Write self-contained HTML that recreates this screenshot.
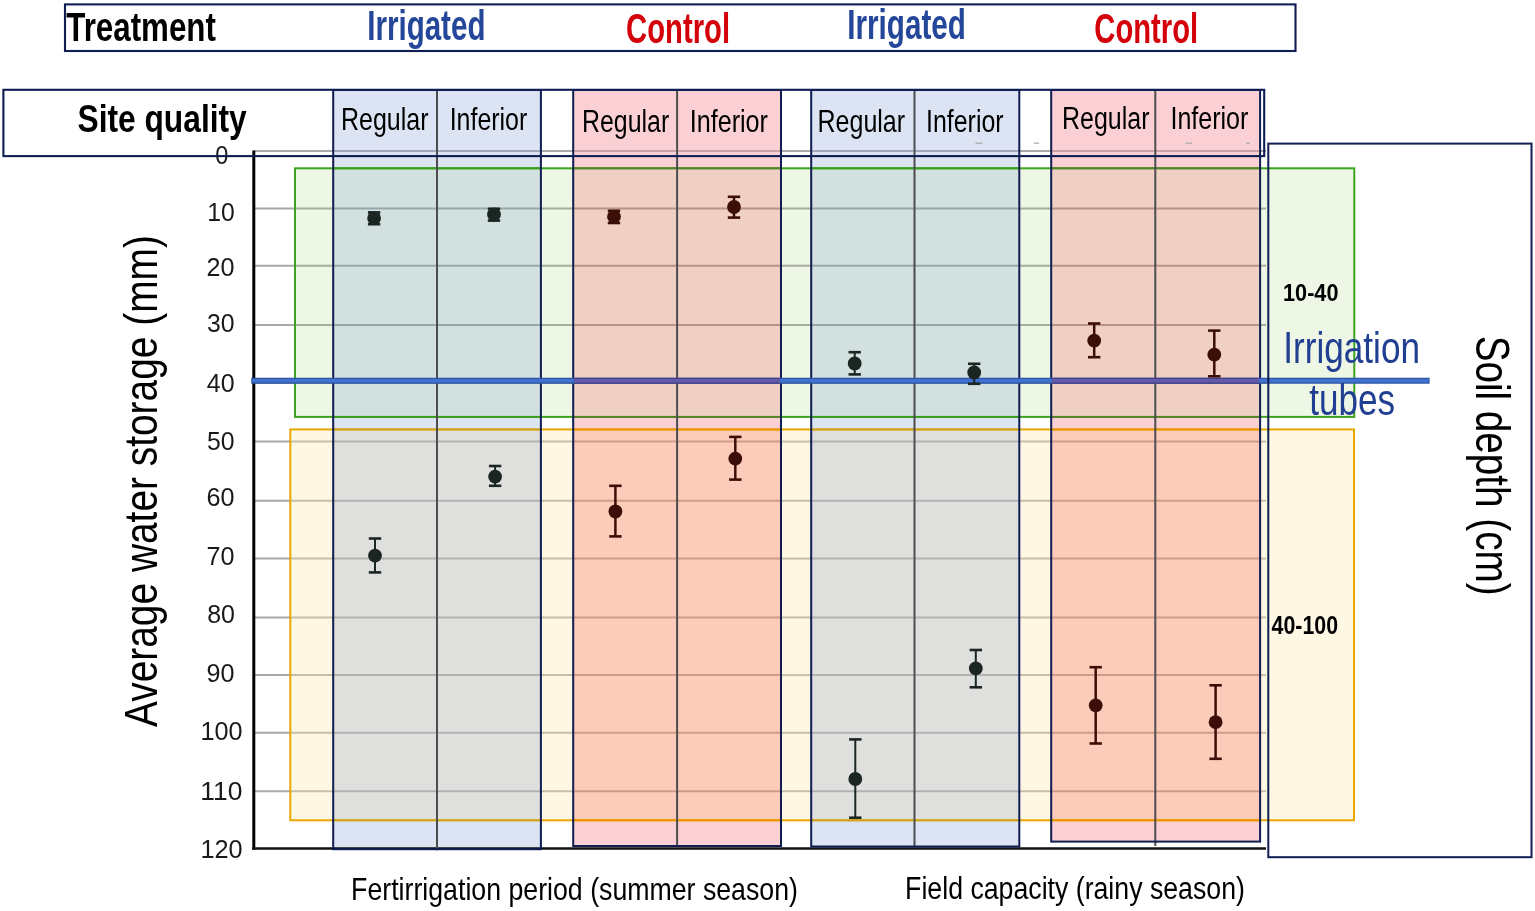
<!DOCTYPE html>
<html><head><meta charset="utf-8"><title>Average water storage by soil depth</title>
<style>html,body{margin:0;padding:0;background:#fff;}svg{display:block;}text{font-family:'Liberation Sans', Arial, sans-serif;}</style>
</head><body>
<svg width="1535" height="911" viewBox="0 0 1535 911">
<rect x="0" y="0" width="1535" height="911" fill="#ffffff"/>
<rect x="295.0" y="168.3" width="1059.3" height="248.59999999999997" fill="#eef6e6"/>
<rect x="290.3" y="429.4" width="1063.7" height="390.9" fill="#fef7e4"/>
<rect x="333.2" y="90.0" width="207.7" height="759.2" fill="#dce4f4"/>
<rect x="333.2" y="168.3" width="207.7" height="248.6" fill="#d2e0e0"/>
<rect x="333.2" y="429.4" width="207.7" height="390.9" fill="#dfe0de"/>
<rect x="573.2" y="90.0" width="207.8" height="756.0" fill="#fbd0d4"/>
<rect x="573.2" y="168.3" width="207.8" height="248.6" fill="#f0d0c5"/>
<rect x="573.2" y="429.4" width="207.8" height="390.9" fill="#fdcbb9"/>
<rect x="811.2" y="90.0" width="208.1" height="756.5" fill="#dce4f4"/>
<rect x="811.2" y="168.3" width="208.1" height="248.6" fill="#d2e0e0"/>
<rect x="811.2" y="429.4" width="208.1" height="390.9" fill="#dfe0de"/>
<rect x="1051.2" y="90.0" width="208.9" height="751.6" fill="#fbd0d4"/>
<rect x="1051.2" y="168.3" width="208.9" height="248.6" fill="#f0d0c5"/>
<rect x="1051.2" y="429.4" width="208.9" height="390.9" fill="#fdcbb9"/>
<line x1="254.0" y1="151.0" x2="333.2" y2="151.0" stroke="#a8a8a8" stroke-width="2"/>
<line x1="333.2" y1="151.0" x2="540.9" y2="151.0" stroke="#a2a6b8" stroke-width="2"/>
<line x1="540.9" y1="151.0" x2="573.2" y2="151.0" stroke="#a8a8a8" stroke-width="2"/>
<line x1="573.2" y1="151.0" x2="781.0" y2="151.0" stroke="#c8a2a6" stroke-width="2"/>
<line x1="781.0" y1="151.0" x2="811.2" y2="151.0" stroke="#a8a8a8" stroke-width="2"/>
<line x1="811.2" y1="151.0" x2="1019.3" y2="151.0" stroke="#a2a6b8" stroke-width="2"/>
<line x1="1019.3" y1="151.0" x2="1051.2" y2="151.0" stroke="#a8a8a8" stroke-width="2"/>
<line x1="1051.2" y1="151.0" x2="1260.1" y2="151.0" stroke="#c8a2a6" stroke-width="2"/>
<line x1="1260.1" y1="151.0" x2="1266.0" y2="151.0" stroke="#a8a8a8" stroke-width="2"/>
<line x1="254.0" y1="208.5" x2="295.0" y2="208.5" stroke="#a8a8a8" stroke-width="2"/>
<line x1="295.0" y1="208.5" x2="333.2" y2="208.5" stroke="#a6ae9e" stroke-width="2"/>
<line x1="333.2" y1="208.5" x2="540.9" y2="208.5" stroke="#98a8a8" stroke-width="2"/>
<line x1="540.9" y1="208.5" x2="573.2" y2="208.5" stroke="#a6ae9e" stroke-width="2"/>
<line x1="573.2" y1="208.5" x2="781.0" y2="208.5" stroke="#b89484" stroke-width="2"/>
<line x1="781.0" y1="208.5" x2="811.2" y2="208.5" stroke="#a6ae9e" stroke-width="2"/>
<line x1="811.2" y1="208.5" x2="1019.3" y2="208.5" stroke="#98a8a8" stroke-width="2"/>
<line x1="1019.3" y1="208.5" x2="1051.2" y2="208.5" stroke="#a6ae9e" stroke-width="2"/>
<line x1="1051.2" y1="208.5" x2="1260.1" y2="208.5" stroke="#b89484" stroke-width="2"/>
<line x1="1260.1" y1="208.5" x2="1266.0" y2="208.5" stroke="#a6ae9e" stroke-width="2"/>
<line x1="254.0" y1="265.7" x2="295.0" y2="265.7" stroke="#a8a8a8" stroke-width="2"/>
<line x1="295.0" y1="265.7" x2="333.2" y2="265.7" stroke="#a6ae9e" stroke-width="2"/>
<line x1="333.2" y1="265.7" x2="540.9" y2="265.7" stroke="#98a8a8" stroke-width="2"/>
<line x1="540.9" y1="265.7" x2="573.2" y2="265.7" stroke="#a6ae9e" stroke-width="2"/>
<line x1="573.2" y1="265.7" x2="781.0" y2="265.7" stroke="#b89484" stroke-width="2"/>
<line x1="781.0" y1="265.7" x2="811.2" y2="265.7" stroke="#a6ae9e" stroke-width="2"/>
<line x1="811.2" y1="265.7" x2="1019.3" y2="265.7" stroke="#98a8a8" stroke-width="2"/>
<line x1="1019.3" y1="265.7" x2="1051.2" y2="265.7" stroke="#a6ae9e" stroke-width="2"/>
<line x1="1051.2" y1="265.7" x2="1260.1" y2="265.7" stroke="#b89484" stroke-width="2"/>
<line x1="1260.1" y1="265.7" x2="1266.0" y2="265.7" stroke="#a6ae9e" stroke-width="2"/>
<line x1="254.0" y1="325.0" x2="295.0" y2="325.0" stroke="#a8a8a8" stroke-width="2"/>
<line x1="295.0" y1="325.0" x2="333.2" y2="325.0" stroke="#a6ae9e" stroke-width="2"/>
<line x1="333.2" y1="325.0" x2="540.9" y2="325.0" stroke="#98a8a8" stroke-width="2"/>
<line x1="540.9" y1="325.0" x2="573.2" y2="325.0" stroke="#a6ae9e" stroke-width="2"/>
<line x1="573.2" y1="325.0" x2="781.0" y2="325.0" stroke="#b89484" stroke-width="2"/>
<line x1="781.0" y1="325.0" x2="811.2" y2="325.0" stroke="#a6ae9e" stroke-width="2"/>
<line x1="811.2" y1="325.0" x2="1019.3" y2="325.0" stroke="#98a8a8" stroke-width="2"/>
<line x1="1019.3" y1="325.0" x2="1051.2" y2="325.0" stroke="#a6ae9e" stroke-width="2"/>
<line x1="1051.2" y1="325.0" x2="1260.1" y2="325.0" stroke="#b89484" stroke-width="2"/>
<line x1="1260.1" y1="325.0" x2="1266.0" y2="325.0" stroke="#a6ae9e" stroke-width="2"/>
<line x1="254.0" y1="383.0" x2="295.0" y2="383.0" stroke="#a8a8a8" stroke-width="2"/>
<line x1="295.0" y1="383.0" x2="333.2" y2="383.0" stroke="#a6ae9e" stroke-width="2"/>
<line x1="333.2" y1="383.0" x2="540.9" y2="383.0" stroke="#98a8a8" stroke-width="2"/>
<line x1="540.9" y1="383.0" x2="573.2" y2="383.0" stroke="#a6ae9e" stroke-width="2"/>
<line x1="573.2" y1="383.0" x2="781.0" y2="383.0" stroke="#b89484" stroke-width="2"/>
<line x1="781.0" y1="383.0" x2="811.2" y2="383.0" stroke="#a6ae9e" stroke-width="2"/>
<line x1="811.2" y1="383.0" x2="1019.3" y2="383.0" stroke="#98a8a8" stroke-width="2"/>
<line x1="1019.3" y1="383.0" x2="1051.2" y2="383.0" stroke="#a6ae9e" stroke-width="2"/>
<line x1="1051.2" y1="383.0" x2="1260.1" y2="383.0" stroke="#b89484" stroke-width="2"/>
<line x1="1260.1" y1="383.0" x2="1266.0" y2="383.0" stroke="#a6ae9e" stroke-width="2"/>
<line x1="254.0" y1="441.6" x2="290.3" y2="441.6" stroke="#a8a8a8" stroke-width="2"/>
<line x1="290.3" y1="441.6" x2="333.2" y2="441.6" stroke="#c6c0a6" stroke-width="2"/>
<line x1="333.2" y1="441.6" x2="540.9" y2="441.6" stroke="#b0b2b0" stroke-width="2"/>
<line x1="540.9" y1="441.6" x2="573.2" y2="441.6" stroke="#c6c0a6" stroke-width="2"/>
<line x1="573.2" y1="441.6" x2="781.0" y2="441.6" stroke="#d09c88" stroke-width="2"/>
<line x1="781.0" y1="441.6" x2="811.2" y2="441.6" stroke="#c6c0a6" stroke-width="2"/>
<line x1="811.2" y1="441.6" x2="1019.3" y2="441.6" stroke="#b0b2b0" stroke-width="2"/>
<line x1="1019.3" y1="441.6" x2="1051.2" y2="441.6" stroke="#c6c0a6" stroke-width="2"/>
<line x1="1051.2" y1="441.6" x2="1260.1" y2="441.6" stroke="#d09c88" stroke-width="2"/>
<line x1="1260.1" y1="441.6" x2="1266.0" y2="441.6" stroke="#c6c0a6" stroke-width="2"/>
<line x1="254.0" y1="500.7" x2="290.3" y2="500.7" stroke="#a8a8a8" stroke-width="2"/>
<line x1="290.3" y1="500.7" x2="333.2" y2="500.7" stroke="#c6c0a6" stroke-width="2"/>
<line x1="333.2" y1="500.7" x2="540.9" y2="500.7" stroke="#b0b2b0" stroke-width="2"/>
<line x1="540.9" y1="500.7" x2="573.2" y2="500.7" stroke="#c6c0a6" stroke-width="2"/>
<line x1="573.2" y1="500.7" x2="781.0" y2="500.7" stroke="#d09c88" stroke-width="2"/>
<line x1="781.0" y1="500.7" x2="811.2" y2="500.7" stroke="#c6c0a6" stroke-width="2"/>
<line x1="811.2" y1="500.7" x2="1019.3" y2="500.7" stroke="#b0b2b0" stroke-width="2"/>
<line x1="1019.3" y1="500.7" x2="1051.2" y2="500.7" stroke="#c6c0a6" stroke-width="2"/>
<line x1="1051.2" y1="500.7" x2="1260.1" y2="500.7" stroke="#d09c88" stroke-width="2"/>
<line x1="1260.1" y1="500.7" x2="1266.0" y2="500.7" stroke="#c6c0a6" stroke-width="2"/>
<line x1="254.0" y1="558.6" x2="290.3" y2="558.6" stroke="#a8a8a8" stroke-width="2"/>
<line x1="290.3" y1="558.6" x2="333.2" y2="558.6" stroke="#c6c0a6" stroke-width="2"/>
<line x1="333.2" y1="558.6" x2="540.9" y2="558.6" stroke="#b0b2b0" stroke-width="2"/>
<line x1="540.9" y1="558.6" x2="573.2" y2="558.6" stroke="#c6c0a6" stroke-width="2"/>
<line x1="573.2" y1="558.6" x2="781.0" y2="558.6" stroke="#d09c88" stroke-width="2"/>
<line x1="781.0" y1="558.6" x2="811.2" y2="558.6" stroke="#c6c0a6" stroke-width="2"/>
<line x1="811.2" y1="558.6" x2="1019.3" y2="558.6" stroke="#b0b2b0" stroke-width="2"/>
<line x1="1019.3" y1="558.6" x2="1051.2" y2="558.6" stroke="#c6c0a6" stroke-width="2"/>
<line x1="1051.2" y1="558.6" x2="1260.1" y2="558.6" stroke="#d09c88" stroke-width="2"/>
<line x1="1260.1" y1="558.6" x2="1266.0" y2="558.6" stroke="#c6c0a6" stroke-width="2"/>
<line x1="254.0" y1="617.4" x2="290.3" y2="617.4" stroke="#a8a8a8" stroke-width="2"/>
<line x1="290.3" y1="617.4" x2="333.2" y2="617.4" stroke="#c6c0a6" stroke-width="2"/>
<line x1="333.2" y1="617.4" x2="540.9" y2="617.4" stroke="#b0b2b0" stroke-width="2"/>
<line x1="540.9" y1="617.4" x2="573.2" y2="617.4" stroke="#c6c0a6" stroke-width="2"/>
<line x1="573.2" y1="617.4" x2="781.0" y2="617.4" stroke="#d09c88" stroke-width="2"/>
<line x1="781.0" y1="617.4" x2="811.2" y2="617.4" stroke="#c6c0a6" stroke-width="2"/>
<line x1="811.2" y1="617.4" x2="1019.3" y2="617.4" stroke="#b0b2b0" stroke-width="2"/>
<line x1="1019.3" y1="617.4" x2="1051.2" y2="617.4" stroke="#c6c0a6" stroke-width="2"/>
<line x1="1051.2" y1="617.4" x2="1260.1" y2="617.4" stroke="#d09c88" stroke-width="2"/>
<line x1="1260.1" y1="617.4" x2="1266.0" y2="617.4" stroke="#c6c0a6" stroke-width="2"/>
<line x1="254.0" y1="675.1" x2="290.3" y2="675.1" stroke="#a8a8a8" stroke-width="2"/>
<line x1="290.3" y1="675.1" x2="333.2" y2="675.1" stroke="#c6c0a6" stroke-width="2"/>
<line x1="333.2" y1="675.1" x2="540.9" y2="675.1" stroke="#b0b2b0" stroke-width="2"/>
<line x1="540.9" y1="675.1" x2="573.2" y2="675.1" stroke="#c6c0a6" stroke-width="2"/>
<line x1="573.2" y1="675.1" x2="781.0" y2="675.1" stroke="#d09c88" stroke-width="2"/>
<line x1="781.0" y1="675.1" x2="811.2" y2="675.1" stroke="#c6c0a6" stroke-width="2"/>
<line x1="811.2" y1="675.1" x2="1019.3" y2="675.1" stroke="#b0b2b0" stroke-width="2"/>
<line x1="1019.3" y1="675.1" x2="1051.2" y2="675.1" stroke="#c6c0a6" stroke-width="2"/>
<line x1="1051.2" y1="675.1" x2="1260.1" y2="675.1" stroke="#d09c88" stroke-width="2"/>
<line x1="1260.1" y1="675.1" x2="1266.0" y2="675.1" stroke="#c6c0a6" stroke-width="2"/>
<line x1="254.0" y1="732.8" x2="290.3" y2="732.8" stroke="#a8a8a8" stroke-width="2"/>
<line x1="290.3" y1="732.8" x2="333.2" y2="732.8" stroke="#c6c0a6" stroke-width="2"/>
<line x1="333.2" y1="732.8" x2="540.9" y2="732.8" stroke="#b0b2b0" stroke-width="2"/>
<line x1="540.9" y1="732.8" x2="573.2" y2="732.8" stroke="#c6c0a6" stroke-width="2"/>
<line x1="573.2" y1="732.8" x2="781.0" y2="732.8" stroke="#d09c88" stroke-width="2"/>
<line x1="781.0" y1="732.8" x2="811.2" y2="732.8" stroke="#c6c0a6" stroke-width="2"/>
<line x1="811.2" y1="732.8" x2="1019.3" y2="732.8" stroke="#b0b2b0" stroke-width="2"/>
<line x1="1019.3" y1="732.8" x2="1051.2" y2="732.8" stroke="#c6c0a6" stroke-width="2"/>
<line x1="1051.2" y1="732.8" x2="1260.1" y2="732.8" stroke="#d09c88" stroke-width="2"/>
<line x1="1260.1" y1="732.8" x2="1266.0" y2="732.8" stroke="#c6c0a6" stroke-width="2"/>
<line x1="254.0" y1="791.2" x2="290.3" y2="791.2" stroke="#a8a8a8" stroke-width="2"/>
<line x1="290.3" y1="791.2" x2="333.2" y2="791.2" stroke="#c6c0a6" stroke-width="2"/>
<line x1="333.2" y1="791.2" x2="540.9" y2="791.2" stroke="#b0b2b0" stroke-width="2"/>
<line x1="540.9" y1="791.2" x2="573.2" y2="791.2" stroke="#c6c0a6" stroke-width="2"/>
<line x1="573.2" y1="791.2" x2="781.0" y2="791.2" stroke="#d09c88" stroke-width="2"/>
<line x1="781.0" y1="791.2" x2="811.2" y2="791.2" stroke="#c6c0a6" stroke-width="2"/>
<line x1="811.2" y1="791.2" x2="1019.3" y2="791.2" stroke="#b0b2b0" stroke-width="2"/>
<line x1="1019.3" y1="791.2" x2="1051.2" y2="791.2" stroke="#c6c0a6" stroke-width="2"/>
<line x1="1051.2" y1="791.2" x2="1260.1" y2="791.2" stroke="#d09c88" stroke-width="2"/>
<line x1="1260.1" y1="791.2" x2="1266.0" y2="791.2" stroke="#c6c0a6" stroke-width="2"/>
<rect x="295.0" y="168.3" width="1059.3" height="248.6" fill="none" stroke="#3da41f" stroke-width="2"/>
<rect x="290.3" y="429.4" width="1063.7" height="390.9" fill="none" stroke="#eaa700" stroke-width="2"/>
<line x1="253.8" y1="150.5" x2="253.8" y2="849.8" stroke="#000" stroke-width="3"/>
<line x1="252.3" y1="848.5" x2="1266" y2="848.5" stroke="#111" stroke-width="2.5"/>
<line x1="333.2" y1="168.3" x2="540.9" y2="168.3" stroke="#3a9f1e" stroke-width="2"/>
<line x1="333.2" y1="416.9" x2="540.9" y2="416.9" stroke="#3a9f1e" stroke-width="2"/>
<line x1="333.2" y1="429.4" x2="540.9" y2="429.4" stroke="#cfa423" stroke-width="2"/>
<line x1="333.2" y1="820.3" x2="540.9" y2="820.3" stroke="#cfa423" stroke-width="2"/>
<line x1="573.2" y1="168.3" x2="781.0" y2="168.3" stroke="#55842a" stroke-width="2"/>
<line x1="573.2" y1="416.9" x2="781.0" y2="416.9" stroke="#55842a" stroke-width="2"/>
<line x1="573.2" y1="429.4" x2="781.0" y2="429.4" stroke="#ef9400" stroke-width="2"/>
<line x1="573.2" y1="820.3" x2="781.0" y2="820.3" stroke="#ef9400" stroke-width="2"/>
<line x1="811.2" y1="168.3" x2="1019.3" y2="168.3" stroke="#3a9f1e" stroke-width="2"/>
<line x1="811.2" y1="416.9" x2="1019.3" y2="416.9" stroke="#3a9f1e" stroke-width="2"/>
<line x1="811.2" y1="429.4" x2="1019.3" y2="429.4" stroke="#cfa423" stroke-width="2"/>
<line x1="811.2" y1="820.3" x2="1019.3" y2="820.3" stroke="#cfa423" stroke-width="2"/>
<line x1="1051.2" y1="168.3" x2="1260.1" y2="168.3" stroke="#55842a" stroke-width="2"/>
<line x1="1051.2" y1="416.9" x2="1260.1" y2="416.9" stroke="#55842a" stroke-width="2"/>
<line x1="1051.2" y1="429.4" x2="1260.1" y2="429.4" stroke="#ef9400" stroke-width="2"/>
<line x1="1051.2" y1="820.3" x2="1260.1" y2="820.3" stroke="#ef9400" stroke-width="2"/>
<line x1="437.0" y1="90.0" x2="437.0" y2="850.2" stroke="#4d4d4f" stroke-width="2"/>
<rect x="333.2" y="90.0" width="207.7" height="759.2" fill="none" stroke="#0f1d52" stroke-width="2"/>
<line x1="677.1" y1="90.0" x2="677.1" y2="847.0" stroke="#4d4d4f" stroke-width="2"/>
<rect x="573.2" y="90.0" width="207.8" height="756.0" fill="none" stroke="#0f1d52" stroke-width="2"/>
<line x1="914.5" y1="90.0" x2="914.5" y2="847.5" stroke="#4d4d4f" stroke-width="2"/>
<rect x="811.2" y="90.0" width="208.1" height="756.5" fill="none" stroke="#0f1d52" stroke-width="2"/>
<line x1="1155.3" y1="90.0" x2="1155.3" y2="846.0" stroke="#4d4d4f" stroke-width="2"/>
<rect x="1051.2" y="90.0" width="208.9" height="751.6" fill="none" stroke="#0f1d52" stroke-width="2"/>
<line x1="251.2" y1="380.7" x2="1429.6" y2="380.7" stroke="#2d55a4" stroke-width="6"/>
<line x1="252.4" y1="380.7" x2="1428.4" y2="380.7" stroke="#4172d0" stroke-width="3.4"/>
<line x1="574.2" y1="380.7" x2="780.0" y2="380.7" stroke="#4a4088" stroke-width="6"/>
<line x1="574.2" y1="380.7" x2="780.0" y2="380.7" stroke="#625aa8" stroke-width="3.4"/>
<line x1="1052.2" y1="380.7" x2="1259.1" y2="380.7" stroke="#4a4088" stroke-width="6"/>
<line x1="1052.2" y1="380.7" x2="1259.1" y2="380.7" stroke="#625aa8" stroke-width="3.4"/>
<line x1="374.1" y1="212.4" x2="374.1" y2="224.2" stroke="#1b2521" stroke-width="2.0"/>
<line x1="367.9" y1="212.4" x2="380.3" y2="212.4" stroke="#1b2521" stroke-width="2.6"/>
<line x1="367.9" y1="224.2" x2="380.3" y2="224.2" stroke="#1b2521" stroke-width="2.6"/>
<circle cx="374.1" cy="218.1" r="6.9" fill="#1b2521"/>
<line x1="494.0" y1="208.8" x2="494.0" y2="220.6" stroke="#1b2521" stroke-width="2.0"/>
<line x1="487.8" y1="208.8" x2="500.2" y2="208.8" stroke="#1b2521" stroke-width="2.6"/>
<line x1="487.8" y1="220.6" x2="500.2" y2="220.6" stroke="#1b2521" stroke-width="2.6"/>
<circle cx="494.0" cy="214.5" r="6.9" fill="#1b2521"/>
<line x1="614.0" y1="210.8" x2="614.0" y2="223.0" stroke="#3b0e07" stroke-width="2.5"/>
<line x1="607.8" y1="210.8" x2="620.2" y2="210.8" stroke="#3b0e07" stroke-width="2.6"/>
<line x1="607.8" y1="223.0" x2="620.2" y2="223.0" stroke="#3b0e07" stroke-width="2.6"/>
<circle cx="614.0" cy="216.7" r="6.9" fill="#3b0e07"/>
<line x1="734.0" y1="196.8" x2="734.0" y2="217.6" stroke="#3b0e07" stroke-width="2.5"/>
<line x1="727.8" y1="196.8" x2="740.2" y2="196.8" stroke="#3b0e07" stroke-width="2.6"/>
<line x1="727.8" y1="217.6" x2="740.2" y2="217.6" stroke="#3b0e07" stroke-width="2.6"/>
<circle cx="734.0" cy="207.0" r="6.9" fill="#3b0e07"/>
<line x1="375.0" y1="538.5" x2="375.0" y2="572.4" stroke="#1b2521" stroke-width="2.0"/>
<line x1="368.8" y1="538.5" x2="381.2" y2="538.5" stroke="#1b2521" stroke-width="2.6"/>
<line x1="368.8" y1="572.4" x2="381.2" y2="572.4" stroke="#1b2521" stroke-width="2.6"/>
<circle cx="375.0" cy="555.6" r="6.9" fill="#1b2521"/>
<line x1="495.1" y1="466.0" x2="495.1" y2="485.8" stroke="#1b2521" stroke-width="2.0"/>
<line x1="488.9" y1="466.0" x2="501.3" y2="466.0" stroke="#1b2521" stroke-width="2.6"/>
<line x1="488.9" y1="485.8" x2="501.3" y2="485.8" stroke="#1b2521" stroke-width="2.6"/>
<circle cx="495.1" cy="476.6" r="6.9" fill="#1b2521"/>
<line x1="615.4" y1="485.8" x2="615.4" y2="536.4" stroke="#3b0e07" stroke-width="2.5"/>
<line x1="609.2" y1="485.8" x2="621.6" y2="485.8" stroke="#3b0e07" stroke-width="2.6"/>
<line x1="609.2" y1="536.4" x2="621.6" y2="536.4" stroke="#3b0e07" stroke-width="2.6"/>
<circle cx="615.4" cy="511.5" r="6.9" fill="#3b0e07"/>
<line x1="735.3" y1="436.9" x2="735.3" y2="479.6" stroke="#3b0e07" stroke-width="2.5"/>
<line x1="729.1" y1="436.9" x2="741.5" y2="436.9" stroke="#3b0e07" stroke-width="2.6"/>
<line x1="729.1" y1="479.6" x2="741.5" y2="479.6" stroke="#3b0e07" stroke-width="2.6"/>
<circle cx="735.3" cy="458.7" r="6.9" fill="#3b0e07"/>
<line x1="854.7" y1="352.2" x2="854.7" y2="374.4" stroke="#1b2521" stroke-width="2.0"/>
<line x1="848.5" y1="352.2" x2="860.9" y2="352.2" stroke="#1b2521" stroke-width="2.6"/>
<line x1="848.5" y1="374.4" x2="860.9" y2="374.4" stroke="#1b2521" stroke-width="2.6"/>
<circle cx="854.7" cy="363.5" r="6.9" fill="#1b2521"/>
<line x1="974.2" y1="363.8" x2="974.2" y2="383.8" stroke="#1b2521" stroke-width="2.0"/>
<line x1="968.0" y1="363.8" x2="980.4" y2="363.8" stroke="#1b2521" stroke-width="2.6"/>
<line x1="968.0" y1="383.8" x2="980.4" y2="383.8" stroke="#1b2521" stroke-width="2.6"/>
<circle cx="974.2" cy="372.5" r="6.9" fill="#1b2521"/>
<line x1="855.3" y1="739.4" x2="855.3" y2="817.7" stroke="#1b2521" stroke-width="2.0"/>
<line x1="849.1" y1="739.4" x2="861.5" y2="739.4" stroke="#1b2521" stroke-width="2.6"/>
<line x1="849.1" y1="817.7" x2="861.5" y2="817.7" stroke="#1b2521" stroke-width="2.6"/>
<circle cx="855.3" cy="779.0" r="6.9" fill="#1b2521"/>
<line x1="975.8" y1="650.0" x2="975.8" y2="687.3" stroke="#1b2521" stroke-width="2.0"/>
<line x1="969.6" y1="650.0" x2="982.0" y2="650.0" stroke="#1b2521" stroke-width="2.6"/>
<line x1="969.6" y1="687.3" x2="982.0" y2="687.3" stroke="#1b2521" stroke-width="2.6"/>
<circle cx="975.8" cy="668.4" r="6.9" fill="#1b2521"/>
<line x1="1094.2" y1="323.5" x2="1094.2" y2="357.2" stroke="#3b0e07" stroke-width="2.5"/>
<line x1="1088.0" y1="323.5" x2="1100.4" y2="323.5" stroke="#3b0e07" stroke-width="2.6"/>
<line x1="1088.0" y1="357.2" x2="1100.4" y2="357.2" stroke="#3b0e07" stroke-width="2.6"/>
<circle cx="1094.2" cy="340.6" r="6.9" fill="#3b0e07"/>
<line x1="1214.3" y1="330.6" x2="1214.3" y2="376.3" stroke="#3b0e07" stroke-width="2.5"/>
<line x1="1208.1" y1="330.6" x2="1220.5" y2="330.6" stroke="#3b0e07" stroke-width="2.6"/>
<line x1="1208.1" y1="376.3" x2="1220.5" y2="376.3" stroke="#3b0e07" stroke-width="2.6"/>
<circle cx="1214.3" cy="354.7" r="6.9" fill="#3b0e07"/>
<line x1="1095.7" y1="667.2" x2="1095.7" y2="743.5" stroke="#3b0e07" stroke-width="2.5"/>
<line x1="1089.5" y1="667.2" x2="1101.9" y2="667.2" stroke="#3b0e07" stroke-width="2.6"/>
<line x1="1089.5" y1="743.5" x2="1101.9" y2="743.5" stroke="#3b0e07" stroke-width="2.6"/>
<circle cx="1095.7" cy="705.3" r="6.9" fill="#3b0e07"/>
<line x1="1215.6" y1="685.3" x2="1215.6" y2="758.8" stroke="#3b0e07" stroke-width="2.5"/>
<line x1="1209.4" y1="685.3" x2="1221.8" y2="685.3" stroke="#3b0e07" stroke-width="2.6"/>
<line x1="1209.4" y1="758.8" x2="1221.8" y2="758.8" stroke="#3b0e07" stroke-width="2.6"/>
<circle cx="1215.6" cy="722.2" r="6.9" fill="#3b0e07"/>
<text transform="translate(66.30,40.60) scale(0.7828,1)" font-size="40.0" font-weight="bold" fill="#000">Treatment</text>
<text transform="translate(367.25,40.10) scale(0.6873,1)" font-size="43.0" font-weight="bold" fill="#24479a">Irrigated</text>
<text transform="translate(626.09,43.40) scale(0.6880,1)" font-size="42.5" font-weight="bold" fill="#d4000a">Control</text>
<text transform="translate(847.25,38.80) scale(0.6897,1)" font-size="43.0" font-weight="bold" fill="#24479a">Irrigated</text>
<text transform="translate(1094.29,43.40) scale(0.6873,1)" font-size="42.5" font-weight="bold" fill="#d4000a">Control</text>
<text transform="translate(77.50,132.10) scale(0.8075,1)" font-size="39.3" font-weight="bold" fill="#000">Site quality</text>
<text transform="translate(340.95,129.90) scale(0.8119,1)" font-size="30.8" font-weight="normal" fill="#000">Regular</text>
<text transform="translate(449.65,129.90) scale(0.8103,1)" font-size="30.8" font-weight="normal" fill="#000">Inferior</text>
<text transform="translate(581.95,131.90) scale(0.8091,1)" font-size="30.8" font-weight="normal" fill="#000">Regular</text>
<text transform="translate(689.63,131.90) scale(0.8178,1)" font-size="30.8" font-weight="normal" fill="#000">Inferior</text>
<text transform="translate(817.55,131.90) scale(0.8119,1)" font-size="30.8" font-weight="normal" fill="#000">Regular</text>
<text transform="translate(926.05,131.90) scale(0.8092,1)" font-size="30.8" font-weight="normal" fill="#000">Inferior</text>
<text transform="translate(1062.05,128.50) scale(0.8110,1)" font-size="30.8" font-weight="normal" fill="#000">Regular</text>
<text transform="translate(1170.44,128.50) scale(0.8135,1)" font-size="30.8" font-weight="normal" fill="#000">Inferior</text>
<text transform="translate(351.11,900.00) scale(0.8350,1)" font-size="32.0" font-weight="normal" fill="#000">Fertirrigation period (summer season)</text>
<text transform="translate(905.11,899.40) scale(0.8480,1)" font-size="31.5" font-weight="normal" fill="#000">Field capacity (rainy season)</text>
<text transform="translate(1283.05,301.30) scale(0.8846,1)" font-size="24.5" font-weight="bold" fill="#000">10-40</text>
<text transform="translate(1271.60,634.00) scale(0.8210,1)" font-size="26.0" font-weight="bold" fill="#000">40-100</text>
<text transform="translate(1283.35,362.60) scale(0.7986,1)" font-size="44.0" font-weight="normal" fill="#203f91">Irrigation</text>
<text transform="translate(1309.20,414.50) scale(0.7971,1)" font-size="44.0" font-weight="normal" fill="#203f91">tubes</text>
<text transform="translate(157.10,727.00) rotate(-90) scale(0.8272,1)" font-size="47.0" font-weight="normal" fill="#000">Average water storage (mm)</text>
<text transform="translate(1476.00,335.69) rotate(90) scale(0.8137,1)" font-size="47.5" font-weight="normal" fill="#000">Soil depth (cm)</text>
<text transform="translate(215.26,163.70) scale(0.9008,1)" font-size="26.2" font-weight="normal" fill="#1a1a1a">0</text>
<text transform="translate(207.16,220.90) scale(0.9422,1)" font-size="26.2" font-weight="normal" fill="#1a1a1a">10</text>
<text transform="translate(206.62,276.30) scale(0.9611,1)" font-size="26.2" font-weight="normal" fill="#1a1a1a">20</text>
<text transform="translate(207.02,332.30) scale(0.9468,1)" font-size="26.2" font-weight="normal" fill="#1a1a1a">30</text>
<text transform="translate(206.81,391.90) scale(0.9544,1)" font-size="26.2" font-weight="normal" fill="#1a1a1a">40</text>
<text transform="translate(207.02,449.50) scale(0.9468,1)" font-size="26.2" font-weight="normal" fill="#1a1a1a">50</text>
<text transform="translate(206.62,506.20) scale(0.9611,1)" font-size="26.2" font-weight="normal" fill="#1a1a1a">60</text>
<text transform="translate(206.62,564.80) scale(0.9611,1)" font-size="26.2" font-weight="normal" fill="#1a1a1a">70</text>
<text transform="translate(207.22,623.10) scale(0.9541,1)" font-size="26.2" font-weight="normal" fill="#1a1a1a">80</text>
<text transform="translate(206.62,681.80) scale(0.9611,1)" font-size="26.2" font-weight="normal" fill="#1a1a1a">90</text>
<text transform="translate(200.43,740.40) scale(0.9608,1)" font-size="26.2" font-weight="normal" fill="#1a1a1a">100</text>
<text transform="translate(200.35,800.30) scale(1.0081,1)" font-size="26.2" font-weight="normal" fill="#1a1a1a">110</text>
<text transform="translate(200.42,857.70) scale(0.9656,1)" font-size="26.2" font-weight="normal" fill="#1a1a1a">120</text>
<line x1="975.5" y1="143.2" x2="982.5" y2="143.2" stroke="#a7a7a7" stroke-width="1.2"/>
<line x1="1034" y1="143.2" x2="1039" y2="143.2" stroke="#a7a7a7" stroke-width="1.2"/>
<line x1="1185.5" y1="143.2" x2="1192" y2="143.2" stroke="#a7a7a7" stroke-width="1.2"/>
<line x1="1246" y1="143.2" x2="1250" y2="143.2" stroke="#a7a7a7" stroke-width="1.2"/>
<rect x="65" y="4.4" width="1230.5" height="46.6" fill="none" stroke="#0f1d52" stroke-width="2.1"/>
<rect x="3.4" y="89.8" width="1260.8" height="66.3" fill="none" stroke="#0f1d52" stroke-width="2.1"/>
<rect x="1268.3" y="143.6" width="263.2" height="713.6" fill="none" stroke="#0f1d52" stroke-width="2"/>
</svg>
</body></html>
